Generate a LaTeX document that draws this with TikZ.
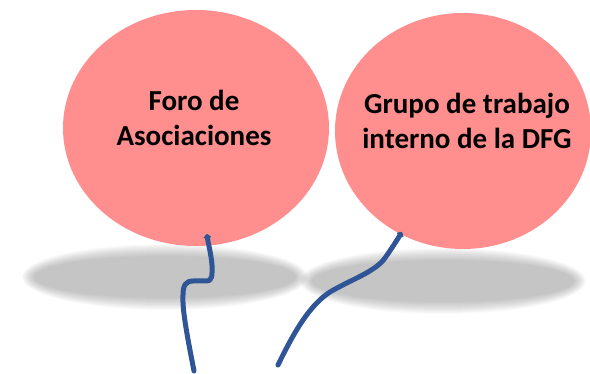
\documentclass[tikz,border=0pt]{standalone}
\usepackage{fontspec}
\setmainfont{Carlito}
\usetikzlibrary{shapes.geometric,arrows.meta}
\definecolor{balloonpink}{RGB}{255,142,142}
\definecolor{stringblue}{RGB}{47,85,151}
\begin{document}
\begin{tikzpicture}[x=1pt,y=-1pt,
  balloonshape/.style={ellipse, fill=balloonpink, draw=none, inner sep=0pt},
  lbl/.style={align=center, font=\fontsize{29}{35}\selectfont\bfseries, inner sep=0pt},
  shadowlayer/.style={fill=black, fill opacity=0.018, draw=none},
  stringline/.style={draw=stringblue, line width=5pt, line cap=round, line join=round,
    -{Triangle[length=4pt,width=9pt,round]}}]
\useasboundingbox (0,0) rectangle (590,374);
% shadows
\foreach \i in {0,...,12}{
  \fill[shadowlayer] (165,277) ellipse [x radius={143-\i}, y radius={33-\i}];
  \fill[shadowlayer] (443,281) ellipse [x radius={143-\i}, y radius={33-\i}];
}
% balloons
\node[balloonshape, minimum width=266pt, minimum height=236pt] (foro) at (196,128) {};
\node[balloonshape, minimum width=256pt, minimum height=236pt] (grupo) at (463,131) {};
\node[lbl] (foroT) at (194,118) {Foro de\\Asociaciones};
\node[lbl] (grupoT) at (467,121) {Grupo de trabajo\\interno de la DFG};
% strings
\coordinate (foroEnd) at (194,371);
\coordinate (foroKnot) at (207,234);
\coordinate (grupoEnd) at (278,365);
\coordinate (grupoKnot) at (402,232);
\draw[stringline] (foroEnd) .. controls (188,340) and (182,310) .. (183,295)
  .. controls (183,285) and (186,281) .. (193,281) -- (206,281)
  .. controls (213,281) and (212,275) .. (212,265)
  .. controls (211,253) and (208,243) .. (foroKnot);
\draw[stringline] (grupoEnd) .. controls (295,330) and (310,305) .. (330,292)
  .. controls (350,280) and (375,272) .. (385,258)
  .. controls (392,248) and (397,240) .. (grupoKnot);
\end{tikzpicture}
\end{document}
